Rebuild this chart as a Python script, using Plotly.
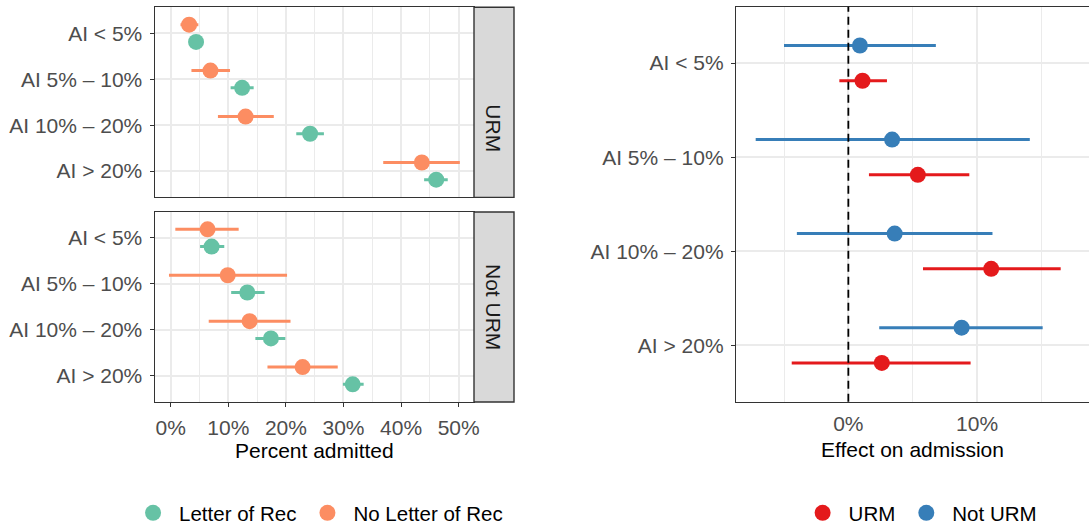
import plotly.graph_objects as go

categories = ["AI < 5%", "AI 5% – 10%", "AI 10% – 20%", "AI > 20%"]

# Left panel: percent admitted (URM facet)
urm_letter_est = [4.4, 12.4, 24.2, 46.1]
urm_letter_lo = [3.7, 10.4, 21.8, 44.0]
urm_letter_hi = [5.1, 14.4, 26.6, 48.1]
urm_noletter_est = [3.2, 6.9, 13.0, 43.6]
urm_noletter_lo = [1.7, 3.6, 8.2, 36.9]
urm_noletter_hi = [4.8, 10.3, 17.9, 50.2]

# Left panel: percent admitted (Not URM facet)
noturm_letter_est = [7.1, 13.3, 17.4, 31.6]
noturm_letter_lo = [5.1, 10.5, 14.7, 29.9]
noturm_letter_hi = [9.3, 16.3, 19.9, 33.5]
noturm_noletter_est = [6.4, 9.9, 13.7, 22.9]
noturm_noletter_lo = [0.8, -0.3, 6.6, 16.8]
noturm_noletter_hi = [11.8, 20.2, 20.8, 29.0]

# Right panel: effect on admission
eff_urm_est = [1.1, 5.4, 11.1, 2.6]
eff_urm_lo = [-0.7, 1.6, 5.8, -4.4]
eff_urm_hi = [3.0, 9.4, 16.5, 9.5]
eff_noturm_est = [0.9, 3.4, 3.6, 8.8]
eff_noturm_lo = [-5.0, -7.2, -4.0, 2.4]
eff_noturm_hi = [6.8, 14.1, 11.2, 15.1]

GREEN = "#66C2A5"
ORANGE = "#FC8D62"
RED = "#E41A1C"
BLUE = "#377EB8"
FONT = "Liberation Sans, Arial, sans-serif"
W, H = 1089, 529
DODGE = 0.1875
FS = 21

pos = list(range(1, len(categories) + 1))


def pr(est, lo, hi, offset, color, name, xa, ya, legend, show):
    return go.Scatter(
        x=est,
        y=[p + offset for p in pos],
        mode="markers",
        marker=dict(color=color, size=16, line=dict(width=0)),
        error_x=dict(type="data", symmetric=False,
                     array=[h - e for h, e in zip(hi, est)],
                     arrayminus=[e - l for e, l in zip(est, lo)],
                     color=color, thickness=3, width=0),
        name=name, legendgroup=name, showlegend=show,
        xaxis=xa, yaxis=ya, legend=legend,
    )


fig = go.Figure()
fig.add_trace(pr(urm_letter_est, urm_letter_lo, urm_letter_hi, DODGE, GREEN, "Letter of Rec", "x", "y", "legend", True))
fig.add_trace(pr(urm_noletter_est, urm_noletter_lo, urm_noletter_hi, -DODGE, ORANGE, "No Letter of Rec", "x", "y", "legend", True))
fig.add_trace(pr(noturm_letter_est, noturm_letter_lo, noturm_letter_hi, DODGE, GREEN, "Letter of Rec", "x2", "y2", "legend", False))
fig.add_trace(pr(noturm_noletter_est, noturm_noletter_lo, noturm_noletter_hi, -DODGE, ORANGE, "No Letter of Rec", "x2", "y2", "legend", False))
fig.add_trace(pr(eff_urm_est, eff_urm_lo, eff_urm_hi, DODGE, RED, "URM", "x3", "y3", "legend2", True))
fig.add_trace(pr(eff_noturm_est, eff_noturm_lo, eff_noturm_hi, -DODGE, BLUE, "Not URM", "x3", "y3", "legend2", True))

grid = "#EBEBEB"
border = "#333333"
tickfont = dict(family=FONT, size=FS, color="#4D4D4D")

lx0, lx1 = 154.7 / W, 474 / W
top_dom = [1 - 197.4 / H, 1 - 7.3 / H]
bot_dom = [1 - 402 / H, 1 - 212 / H]
rx0 = 736 / W
r_dom = [1 - 401.7 / H, 1 - 6.7 / H]

minor_grid = dict(showgrid=True, gridcolor=grid, gridwidth=0.9)
common_x = dict(showgrid=True, gridcolor=grid, gridwidth=1.6, zeroline=False,
                showline=True, mirror=True, linecolor=border, linewidth=1.4,
                automargin=False, tickfont=tickfont, ticklabelstandoff=3)
common_y = dict(showgrid=True, gridcolor=grid, gridwidth=1.6, zeroline=False,
                tickvals=pos, ticktext=categories, ticks="outside", ticklen=4,
                tickcolor=border, tickwidth=1.2, automargin=False, tickfont=tickfont,
                ticklabelstandoff=3)
legend_common = dict(orientation="h", y=1 - 513 / H, yanchor="middle", xanchor="center",
                     itemwidth=42, font=dict(family=FONT, size=20.5, color="black"),
                     bgcolor="rgba(0,0,0,0)")

fig.update_layout(
    width=W, height=H,
    margin=dict(l=0, r=0, t=0, b=0, autoexpand=False),
    paper_bgcolor="white", plot_bgcolor="white",
    font=dict(family=FONT, size=FS, color="black"),
    xaxis=dict(common_x, domain=[lx0, lx1], range=[-2.78, 52.66], tickvals=[0, 10, 20, 30, 40, 50],
               showticklabels=False, ticks="", anchor="y",
               minor=dict(minor_grid, dtick=5, tick0=0)),
    xaxis2=dict(common_x, domain=[lx0, lx1], range=[-2.78, 52.66], tickvals=[0, 10, 20, 30, 40, 50],
                ticktext=["0%", "10%", "20%", "30%", "40%", "50%"], ticks="outside", ticklen=4,
                tickcolor=border, tickwidth=1.2, anchor="y2",
                minor=dict(minor_grid, dtick=5, tick0=0),
                title=dict(text="Percent admitted", standoff=3, font=dict(size=FS, color="black"))),
    xaxis3=dict(common_x, domain=[rx0, 1.0], range=[-8.73, 18.70], tickvals=[0, 10],
                ticktext=["0%", "10%"], ticks="", anchor="y3",
                minor=dict(minor_grid, dtick=5, tick0=-5),
                title=dict(text="Effect on admission", standoff=8, font=dict(size=FS, color="black"))),
    yaxis=dict(common_y, domain=top_dom, range=[4.573, 0.434], anchor="x",
               showline=True, mirror=True, linecolor=border, linewidth=1.4),
    yaxis2=dict(common_y, domain=bot_dom, range=[4.573, 0.434], anchor="x2",
                showline=True, mirror=True, linecolor=border, linewidth=1.4),
    yaxis3=dict(common_y, domain=r_dom, range=[4.6, 0.4], anchor="x3",
                showline=True, mirror=False, linecolor=border, linewidth=1.4),
    legend=dict(legend_common, x=0.2916),
    legend2=dict(legend_common, x=0.844),
)

# Facet strips
sx0, sx1 = 474 / W, 514 / W
for dom, label in [(top_dom, "URM"), (bot_dom, "Not URM")]:
    fig.add_shape(type="rect", xref="paper", yref="paper", x0=sx0, x1=sx1, y0=dom[0], y1=dom[1],
                  fillcolor="#D9D9D9", line=dict(color=border, width=1.4))
    fig.add_annotation(xref="paper", yref="paper", x=(sx0 + sx1) / 2, y=(dom[0] + dom[1]) / 2,
                       text=label, textangle=90, showarrow=False,
                       font=dict(family=FONT, size=FS, color="#1A1A1A"))

# Reference line at zero effect
fig.add_shape(type="line", xref="x3", yref="y3 domain", x0=0, x1=0, y0=0, y1=1,
              line=dict(color="black", width=1.8, dash="8px,5px"), layer="above")

fig.write_html("out.html")
